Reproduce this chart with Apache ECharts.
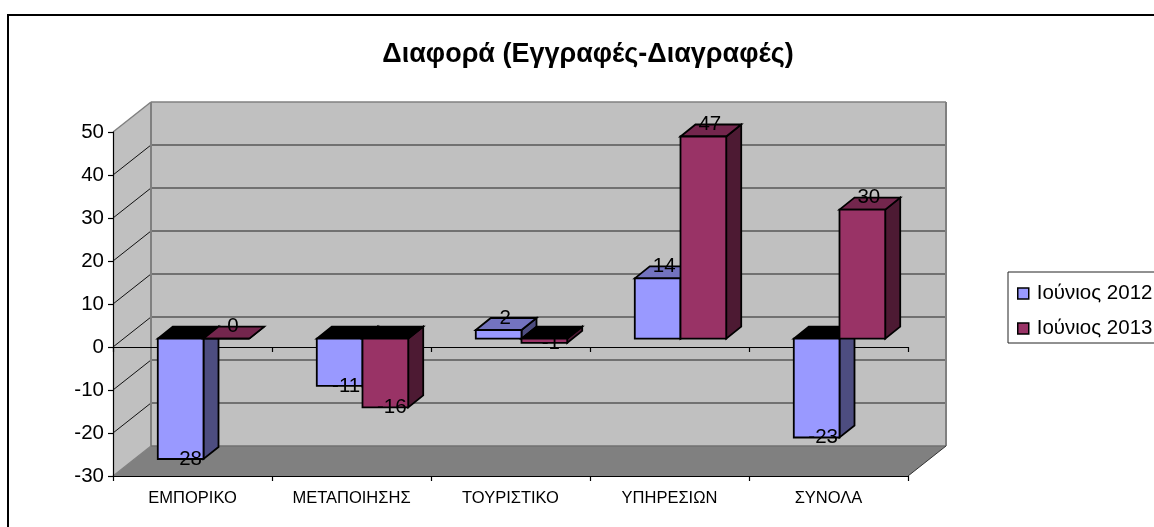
<!DOCTYPE html>
<html>
<head>
<meta charset="utf-8">
<style>html,body{margin:0;padding:0;background:#fff;overflow:hidden}#c{width:1154px;height:527px}</style>
<script src="https://cdn.jsdelivr.net/npm/echarts@6/dist/echarts.min.js"></script>
</head>
<body>
<div id="c"></div>
<script>
const chartTitle = 'Διαφορά (Εγγραφές-Διαγραφές)';
const categories = ['ΕΜΠΟΡΙΚΟ', 'ΜΕΤΑΠΟΙΗΣΗΣ', 'ΤΟΥΡΙΣΤΙΚΟ', 'ΥΠΗΡΕΣΙΩΝ', 'ΣΥΝΟΛΑ'];
const seriesNames = ['Ιούνιος 2012', 'Ιούνιος 2013'];
const values2012 = [-28, -11, 2, 14, -23];
const values2013 = [0, -16, -1, 47, 30];
const yMin = -30, yMax = 50, yStep = 10;
const yTicks = [-30, -20, -10, 0, 10, 20, 30, 40, 50];

// oblique projection of the pseudo-3D box (pixels)
const wallDx = 38, wallDy = 30;
const planeDx = 11, planeDy = 8.4;
const barDx = 15, barDy = 12;
const barRatio = 0.2875;
const FONT = '"Liberation Sans", Arial, sans-serif';
const palettes = [
  {front: '#9999ff', top: '#7373bf', side: '#4d4d80'},
  {front: '#993366', top: '#73264d', side: '#4d1a33'}
];

function poly(points, fill, stroke, lw, z2) {
  return {type: 'polygon', z2: z2 || 0, shape: {points},
    style: {fill, stroke: stroke || null, lineWidth: lw || 0}};
}
function line(x1, y1, x2, y2, stroke, lw) {
  return {type: 'line', shape: {x1, y1, x2, y2}, style: {stroke, lineWidth: lw || 1, fill: null}};
}

function renderWalls(params, api) {
  const g = params.coordSys;
  const L = g.x, R = g.x + g.width, T = g.y, B = g.y + g.height;
  const kids = [
    poly([[L + wallDx, T - wallDy], [R + wallDx, T - wallDy], [R + wallDx, B - wallDy], [L + wallDx, B - wallDy]], '#c0c0c0'),
    poly([[L, T], [L + wallDx, T - wallDy], [L + wallDx, B - wallDy], [L, B]], '#c0c0c0'),
    poly([[L, B], [L + wallDx, B - wallDy], [R + wallDx, B - wallDy], [R, B]], '#808080')
  ];
  yTicks.forEach(t => {
    if (t === yMin || t === yMax) return;
    const y = api.coord([0, t])[1];
    kids.push(line(L, y, L + wallDx, y - wallDy, '#111', 1));
    kids.push(line(L + wallDx, y - wallDy, R + wallDx, y - wallDy, '#222', 1.2));
  });
  kids.push(line(L, T, L + wallDx, T - wallDy, '#808080', 1.5));
  kids.push(line(L + wallDx, T - wallDy, R + wallDx, T - wallDy, '#808080', 1.5));
  kids.push(line(L + wallDx, T - wallDy, L + wallDx, B - wallDy, '#808080', 2));
  kids.push(line(R + wallDx, T - wallDy, R + wallDx, B - wallDy, '#808080', 2));
  kids.push(line(L + wallDx, B - wallDy, R + wallDx, B - wallDy, '#707070', 1.5));
  kids.push(line(L, B, L + wallDx, B - wallDy, '#808080', 1.2));
  kids.push(line(R, B, R + wallDx, B - wallDy, '#333', 1));
  return {type: 'group', children: kids};
}

function makeRenderBar(seriesIndex) {
  const pal = palettes[seriesIndex];
  return function (params, api) {
    const i = api.value(0), v = api.value(1);
    const origin = api.coord([i, 0]);
    const vy = api.coord([i, v])[1] - planeDy;
    const baseY = origin[1] - planeDy;
    const w = api.size([1, 0])[0] * barRatio;
    const x0 = origin[0] + planeDx + (seriesIndex - 1) * w;
    const x1 = x0 + w;
    const top = Math.min(baseY, vy), bot = Math.max(baseY, vy);
    const lw = 1.8, ink = '#000';
    const kids = [
      poly([[x1, top], [x1 + barDx, top - barDy], [x1 + barDx, bot - barDy], [x1, bot]], pal.side, ink, lw),
      poly([[x0, top], [x0 + barDx, top - barDy], [x1 + barDx, top - barDy], [x1, top]], v < 0 ? '#000' : pal.top, ink, lw),
      poly([[x0, top], [x1, top], [x1, bot], [x0, bot]], pal.front, ink, lw),
      {type: 'text', z2: 100, style: {
        text: String(v),
        x: x0 + w / 2 + barDx / 2 - 1,
        y: v >= 0 ? top - 12 : bot,
        align: 'center', verticalAlign: 'middle',
        font: '20.5px ' + FONT, fill: '#000'
      }}
    ];
    return {type: 'group', children: kids};
  };
}

const axisInk = {lineStyle: {color: '#000', width: 1.2}};
const chart = echarts.init(document.getElementById('c'), null, {renderer: 'canvas'});
chart.setOption({
  animation: false,
  backgroundColor: '#fff',
  title: {
    text: chartTitle, left: 583, top: 36, textAlign: 'center',
    textStyle: {fontFamily: FONT, fontSize: 27, fontWeight: 'bold', color: '#000'}
  },
  legend: {
    left: 1008, top: 272, orient: 'vertical', icon: 'rect',
    itemWidth: 11, itemHeight: 11, itemGap: 14, padding: [11, 30, 4, 9],
    borderColor: '#222', borderWidth: 1, selectedMode: false,
    textStyle: {fontFamily: FONT, fontSize: 20.5, color: '#000', padding: [0, 0, 0, 3]},
    data: seriesNames.map((n, k) => ({name: n, itemStyle: {color: palettes[k].front, borderColor: '#000', borderWidth: 1.5}}))
  },
  grid: {left: 113, top: 132, width: 795, height: 344},
  xAxis: [
    {type: 'category', data: categories, position: 'bottom',
     axisLine: {onZero: false, ...axisInk},
     axisTick: {show: true, length: 5, ...axisInk},
     axisLabel: {interval: 0, margin: 14, fontFamily: FONT, fontSize: 16.5, color: '#000'},
     splitLine: {show: false}},
    {type: 'category', data: categories, position: 'bottom',
     axisLine: {onZero: true, ...axisInk},
     axisTick: {show: true, length: 5, ...axisInk},
     axisLabel: {show: false}, splitLine: {show: false}}
  ],
  yAxis: {
    type: 'value', min: yMin, max: yMax, interval: yStep,
    axisLine: {show: true, onZero: false, ...axisInk},
    axisTick: {show: true, length: 5, ...axisInk},
    axisLabel: {margin: 9, fontFamily: FONT, fontSize: 20.5, color: '#000'},
    splitLine: {show: false}
  },
  series: [
    {type: 'custom', name: 'walls', z: -1, silent: true, clip: false, renderItem: renderWalls,
     data: [[0, 0]], encode: {x: 0, y: 1}},
    {type: 'custom', name: seriesNames[0], z: 3, clip: false, renderItem: makeRenderBar(0),
     itemStyle: {color: palettes[0].front},
     data: values2012.map((v, i) => [i, v]), encode: {x: 0, y: 1}},
    {type: 'custom', name: seriesNames[1], z: 3, clip: false, renderItem: makeRenderBar(1),
     itemStyle: {color: palettes[1].front},
     data: values2013.map((v, i) => [i, v]), encode: {x: 0, y: 1}}
  ],
  graphic: [{type: 'rect', z: -10, silent: true,
    shape: {x: 8, y: 15, width: 1300, height: 700},
    style: {fill: 'none', stroke: '#000', lineWidth: 2}}]
});
</script>
</body>
</html>
